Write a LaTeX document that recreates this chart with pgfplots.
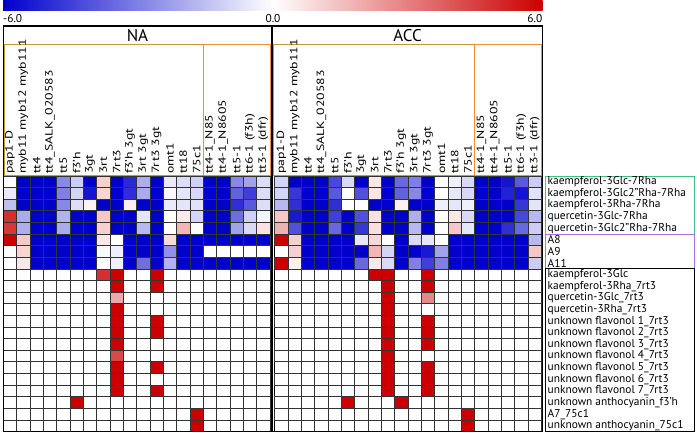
\documentclass[border=0pt]{standalone}
\usepackage{pgfplots}
\usepackage{pgfplotstable}
\pgfplotsset{compat=1.18}
\usepackage{fontspec}
\setmainfont{PT Sans}
\definecolor{hmblue}{RGB}{0,0,204}
\definecolor{hmred}{RGB}{204,0,0}
\definecolor{boxgold}{RGB}{200,150,60}
\definecolor{boxorange}{RGB}{242,140,55}
\definecolor{boxgreen}{RGB}{60,195,125}
\definecolor{boxpurple}{RGB}{175,110,225}

\pgfplotstableread[row sep=\\]{
c\\
0\\ -6\\ -6\\ -6\\ -2.8\\ -1.2\\ -6\\ 1.1\\ -6\\ -5\\ -1.9\\ -6\\ -0.5\\ -0.8\\ -1.1\\ -6\\ -6\\ -2.8\\ -2.2\\ -0.8\\
-0.5\\ -6\\ -6\\ -6\\ -3\\ -1\\ -5.5\\ 1\\ -6\\ -4.9\\ -2\\ -6\\ -0.15\\ -0.6\\ -0.9\\ -6\\ -6\\ -3.7\\ -4.5\\ -0.8\\
-1.5\\ -6\\ -6\\ -6\\ -2.8\\ -0.8\\ 0.3\\ -6\\ -6\\ 0.4\\ -6\\ -6\\ -0.5\\ -0.6\\ -0.7\\ -6\\ -6\\ -4.9\\ -3.9\\ -0.8\\
4.9\\ -2\\ -6\\ -6\\ -1.8\\ -6\\ -6\\ 1.3\\ -6\\ -6\\ -0.6\\ -6\\ 0\\ 0.5\\ -1\\ -6\\ -6\\ -3.4\\ -1.1\\ -0.25\\
4.7\\ -1.9\\ -6\\ -6\\ -2\\ -6\\ -6\\ 1.1\\ -6\\ -6\\ -1.7\\ -6\\ 0\\ 1.7\\ 0\\ -6\\ -6\\ -2.2\\ -0.9\\ 0.7\\
6\\ 1.3\\ -6\\ -6\\ -6\\ -6\\ -6\\ 0.55\\ 0\\ -6\\ -6\\ -6\\ 0.9\\ -6\\ -6\\ -6\\ -6\\ -6\\ -6\\ -6\\
6\\ 1\\ -6\\ -6\\ -6\\ -6\\ -6\\ -0.15\\ -0.35\\ -6\\ -6\\ -6\\ -2.6\\ -6\\ -6\\ 0\\ 0\\ 0\\ 0\\ 0\\
6\\ 0.55\\ -6\\ -6\\ -6\\ -6\\ -6\\ 0\\ -0.35\\ -6\\ -3.4\\ -6\\ -1.8\\ -6\\ -6\\ -6\\ -6\\ -6\\ -6\\ -6\\
0\\ 0\\ 0\\ 0\\ 0\\ 0\\ 0\\ 4.9\\ 6\\ 0\\ 0\\ 6\\ 0\\ 0\\ 0\\ 0\\ 0\\ 0\\ 0\\ 0\\
0\\ 0\\ 0\\ 0\\ 0\\ 0\\ 0\\ 0\\ 6\\ 0\\ 0\\ 6\\ 0\\ 0\\ 0\\ 0\\ 0\\ 0\\ 0\\ 0\\
0\\ 0\\ 0\\ 0\\ 0\\ 0\\ 0\\ 0\\ 2.05\\ 0\\ 0\\ 0\\ 0\\ 0\\ 0\\ 0\\ 0\\ 0\\ 0\\ 0\\
0\\ 0\\ 0\\ 0\\ 0\\ 0\\ 0\\ 0\\ 6\\ 0\\ 0\\ 0\\ 0\\ 0\\ 0\\ 0\\ 0\\ 0\\ 0\\ 0\\
0\\ 0\\ 0\\ 0\\ 0\\ 0\\ 0\\ 0\\ 6\\ 0\\ 0\\ 6\\ 0\\ 0\\ 0\\ 0\\ 0\\ 0\\ 0\\ 0\\
0\\ 0\\ 0\\ 0\\ 0\\ 0\\ 0\\ 0\\ 6\\ 0\\ 0\\ 6\\ 0\\ 0\\ 0\\ 0\\ 0\\ 0\\ 0\\ 0\\
0\\ 0\\ 0\\ 0\\ 0\\ 0\\ 0\\ 0\\ 6\\ 0\\ 0\\ 0\\ 0\\ 0\\ 0\\ 0\\ 0\\ 0\\ 0\\ 0\\
0\\ 0\\ 0\\ 0\\ 0\\ 0\\ 0\\ 0\\ 4.3\\ 0\\ 0\\ 0\\ 0\\ 0\\ 0\\ 0\\ 0\\ 0\\ 0\\ 0\\
0\\ 0\\ 0\\ 0\\ 0\\ 0\\ 0\\ 0\\ 6\\ 0\\ 0\\ 6\\ 0\\ 0\\ 0\\ 0\\ 0\\ 0\\ 0\\ 0\\
0\\ 0\\ 0\\ 0\\ 0\\ 0\\ 0\\ 0\\ 6\\ 0\\ 0\\ 0\\ 0\\ 0\\ 0\\ 0\\ 0\\ 0\\ 0\\ 0\\
0\\ 0\\ 0\\ 0\\ 0\\ 0\\ 0\\ 0\\ 6\\ 0\\ 0\\ 6\\ 0\\ 0\\ 0\\ 0\\ 0\\ 0\\ 0\\ 0\\
0\\ 0\\ 0\\ 0\\ 0\\ 6\\ 0\\ 0\\ 0\\ 0\\ 0\\ 0\\ 0\\ 0\\ 0\\ 0\\ 0\\ 0\\ 0\\ 0\\
0\\ 0\\ 0\\ 0\\ 0\\ 0\\ 0\\ 0\\ 0\\ 0\\ 0\\ 0\\ 0\\ 0\\ 6\\ 0\\ 0\\ 0\\ 0\\ 0\\
0\\ 0\\ 0\\ 0\\ 0\\ 0\\ 0\\ 0\\ 0\\ 0\\ 0\\ 0\\ 0\\ 0\\ 6\\ 0\\ 0\\ 0\\ 0\\ 0\\
}\dataNA

\pgfplotstableread[row sep=\\]{
c\\
-1\\ -6\\ -6\\ -6\\ -4.3\\ -0.9\\ -6\\ 0.55\\ -6\\ -3.55\\ -3\\ -6\\ 0\\ -0.35\\ -0.9\\ -6\\ -6\\ -5.5\\ -3.9\\ -1.2\\
-1\\ -4.7\\ -6\\ -6\\ -3.9\\ 0\\ -4.1\\ 0.65\\ -6\\ -3.7\\ -2.8\\ -6\\ 0\\ -0.55\\ -0.9\\ -6\\ -6\\ -5.2\\ -5.5\\ -0.7\\
-1.7\\ -4.9\\ -6\\ -6\\ -4.9\\ 0\\ 0\\ -6\\ -6\\ 0.35\\ -6\\ -6\\ -0.35\\ -0.55\\ -0.35\\ -6\\ -6\\ -6\\ -4.7\\ -0.6\\
1.3\\ -5.4\\ -6\\ -6\\ -4.5\\ -6\\ -4.1\\ 0.7\\ -6\\ -6\\ -1.9\\ -6\\ 0\\ 0.55\\ -0.9\\ -6\\ -6\\ -6\\ -4.3\\ -1.7\\
1.85\\ -4.1\\ -6\\ -6\\ -3.55\\ -6\\ -4.7\\ 0.75\\ -6\\ -6\\ -1.7\\ -6\\ 0\\ 1.3\\ -0.55\\ -6\\ -6\\ -4.9\\ -3.55\\ -1.2\\
4.5\\ 1.1\\ -6\\ -6\\ -6\\ -6\\ -0.55\\ 0.9\\ 0\\ -6\\ -0.9\\ -0.55\\ 0\\ -6\\ -6\\ -6\\ -6\\ -6\\ -6\\ -1.7\\
6\\ 1.1\\ -6\\ -6\\ -6\\ -6\\ -6\\ 1.7\\ -1\\ -6\\ -6\\ -5.4\\ -2.2\\ -6\\ -6\\ -6\\ -6\\ -6\\ -6\\ 1.35\\
4.3\\ 0.35\\ -6\\ -6\\ -6\\ -6\\ -3.55\\ 0.55\\ -0.9\\ -6\\ -3\\ -4.5\\ -3\\ -6\\ -6\\ -6\\ -6\\ -6\\ -6\\ -1.2\\
6\\ 0\\ 0\\ 0\\ 0\\ 0\\ 0\\ 6\\ 6\\ 0\\ 0\\ 6\\ 0\\ 0\\ 0\\ 0\\ 0\\ 0\\ 0\\ 0\\
0\\ 0\\ 0\\ 0\\ 0\\ 0\\ 0\\ 0\\ 6\\ 0\\ 0\\ 6\\ 0\\ 0\\ 0\\ 0\\ 0\\ 0\\ 0\\ 0\\
0\\ 0\\ 0\\ 0\\ 0\\ 0\\ 0\\ 0\\ 6\\ 0\\ 0\\ 2.8\\ 0\\ 0\\ 0\\ 0\\ 0\\ 0\\ 0\\ 0\\
0\\ 0\\ 0\\ 0\\ 0\\ 0\\ 0\\ 0\\ 6\\ 0\\ 0\\ 0\\ 0\\ 0\\ 0\\ 0\\ 0\\ 0\\ 0\\ 0\\
0\\ 0\\ 0\\ 0\\ 0\\ 0\\ 0\\ 0\\ 6\\ 0\\ 0\\ 6\\ 0\\ 0\\ 0\\ 0\\ 0\\ 0\\ 0\\ 0\\
0\\ 0\\ 0\\ 0\\ 0\\ 0\\ 0\\ 0\\ 6\\ 0\\ 0\\ 6\\ 0\\ 0\\ 0\\ 0\\ 0\\ 0\\ 0\\ 0\\
0\\ 0\\ 0\\ 0\\ 0\\ 0\\ 0\\ 0\\ 6\\ 0\\ 0\\ 6\\ 0\\ 0\\ 0\\ 0\\ 0\\ 0\\ 0\\ 0\\
0\\ 0\\ 0\\ 0\\ 0\\ 0\\ 0\\ 0\\ 6\\ 0\\ 0\\ 0\\ 0\\ 0\\ 0\\ 0\\ 0\\ 0\\ 0\\ 0\\
0\\ 0\\ 0\\ 0\\ 0\\ 0\\ 0\\ 0\\ 6\\ 0\\ 0\\ 6\\ 0\\ 0\\ 0\\ 0\\ 0\\ 0\\ 0\\ 0\\
0\\ 0\\ 0\\ 0\\ 0\\ 0\\ 0\\ 0\\ 6\\ 0\\ 0\\ 6\\ 0\\ 0\\ 0\\ 0\\ 0\\ 0\\ 0\\ 0\\
0\\ 0\\ 0\\ 0\\ 0\\ 0\\ 0\\ 0\\ 6\\ 0\\ 0\\ 6\\ 0\\ 0\\ 0\\ 0\\ 0\\ 0\\ 0\\ 0\\
0\\ 0\\ 0\\ 0\\ 0\\ 6\\ 0\\ 0\\ 0\\ 6\\ 0\\ 0\\ 0\\ 0\\ 0\\ 0\\ 0\\ 0\\ 0\\ 0\\
0\\ 0\\ 0\\ 0\\ 0\\ 0\\ 0\\ 0\\ 0\\ 0\\ 0\\ 0\\ 0\\ 0\\ 6\\ 0\\ 0\\ 0\\ 0\\ 0\\
0\\ 0\\ 0\\ 0\\ 0\\ 0\\ 0\\ 0\\ 0\\ 0\\ 0\\ 0\\ 0\\ 0\\ 6\\ 0\\ 0\\ 0\\ 0\\ 0\\
}\dataACC

\pgfplotsset{hm/.style={
  scale only axis, width=266.7pt, height=255.6pt, anchor=north west,
  xmin=0.5, xmax=20.5, ymin=0.5, ymax=22.5,
  colormap={bwr}{rgb255(0cm)=(0,0,204); rgb255(1cm)=(255,255,255); rgb255(2cm)=(204,0,0)},
  point meta min=-6, point meta max=6,
  xtick=\empty, ytick=\empty,
  axis line style={black, line width=1pt},
},
cells/.style={scatter, only marks, mark=square*, mark size=5.809pt,
  mark options={xscale=1.148, line width=0.8pt},
  scatter/use mapped color={draw=black!80, fill=mapped color},
  point meta=explicit}
}

\begin{document}
\begin{tikzpicture}[font=\fontsize{11.4}{13}\selectfont]
\begin{scope}[x=1pt, y=1pt]
\useasboundingbox (0,0) rectangle (697,-433);
% colour bar
\shade[left color=hmblue, right color=hmred, middle color=white] (3,-0.5) rectangle (542.5,-10.5);
\node[anchor=west, inner sep=0] at (3,-19) {-6.0};
\node[inner sep=0] at (273,-19) {0.0};
\node[anchor=east, inner sep=0] at (542.5,-19) {6.0};
\end{scope}

\begin{axis}[hm, at={(3.3pt,-176pt)}]
\addplot[cells]
  table[x index=0, y index=0, x expr={mod(\coordindex,20)+1}, y expr={22-floor(\coordindex/20)}, meta index=0] {\dataNA};
\end{axis}
\begin{axis}[hm, at={(274.7pt,-176pt)}]
\addplot[cells]
  table[x index=0, y index=0, x expr={mod(\coordindex,20)+1}, y expr={22-floor(\coordindex/20)}, meta index=0] {\dataACC};
\end{axis}

\begin{scope}[x=1pt, y=1pt]
% header frames
\draw[black, line width=1.2pt] (3.3,-26) rectangle (542.3,-431.6);
\draw[black, line width=2pt] (272.3,-26) -- (272.3,-431.6);
\node[font=\fontsize{17}{17}\selectfont] at (137.5,-35.5) {NA};
\node[font=\fontsize{17}{17}\selectfont] at (407.5,-35.5) {ACC};
\draw[boxgold, line width=0.9pt] (4.2,-44.5) rectangle (203.3,-175.6);
\draw[boxorange, line width=0.9pt] (203.3,-44.5) rectangle (270.9,-175.6);
\draw[boxgold, line width=0.9pt] (273.8,-44.5) rectangle (474.7,-175.6);
\draw[boxorange, line width=0.9pt] (474.7,-44.5) rectangle (541.2,-175.6);

% column labels
\foreach \lab [count=\j] in {{pap1-D},{myb11 myb12 myb111},{tt4},{tt4\_SALK\_020583},{tt5},{f3'h},{3gt},{3rt},{7rt3},{f3'h 3gt},{3rt 3gt},{7rt3 3gt},{omt1},{tt18},{75c1},{tt4-1\_N85},{tt4-1\_N8605},{tt5-1},{tt6-1 (f3h)},{tt3-1 (dfr)}}{
  \node[font=\fontsize{10.5}{12}\selectfont, rotate=90, xscale=1.31, anchor=west, inner sep=1pt] at ({3.3+(\j-0.5)*13.335},-175.5) {\lab};
  \node[font=\fontsize{10.5}{12}\selectfont, rotate=90, xscale=1.31, anchor=west, inner sep=1pt] at ({274.7+(\j-0.5)*13.335},-175.5) {\lab};
}

% row label frames
\draw[boxgreen, line width=0.9pt] (545.5,-176) rectangle (694.5,-234.1);
\draw[boxpurple, line width=0.9pt] (545.5,-234.1) rectangle (694.5,-268.9);
\draw[black, line width=0.9pt] (545.5,-268.9) rectangle (694.5,-431.6);
\foreach \lab [count=\i] in {{kaempferol-3Glc-7Rha},{kaempferol-3Glc2"Rha-7Rha},{kaempferol-3Rha-7Rha},{quercetin-3Glc-7Rha},{quercetin-3Glc2"Rha-7Rha},{A8},{A9},{A11},{kaempferol-3Glc},{kaempferol-3Rha\_7rt3},{quercetin-3Glc\_7rt3},{quercetin-3Rha\_7rt3},{unknown flavonol 1\_7rt3},{unknown flavonol 2\_7rt3},{unknown flavonol 3\_7rt3},{unknown flavonol 4\_7rt3},{unknown flavonol 5\_7rt3},{unknown flavonol 6\_7rt3},{unknown flavonol 7\_7rt3},{unknown anthocyanin\_f3'h},{A7\_75c1},{unknown anthocyanin\_75c1}}{
  \node[anchor=west, inner sep=0] at (547.5,{-176-(\i-0.5)*11.618}) {\lab};
}
\end{scope}
\end{tikzpicture}
\end{document}
